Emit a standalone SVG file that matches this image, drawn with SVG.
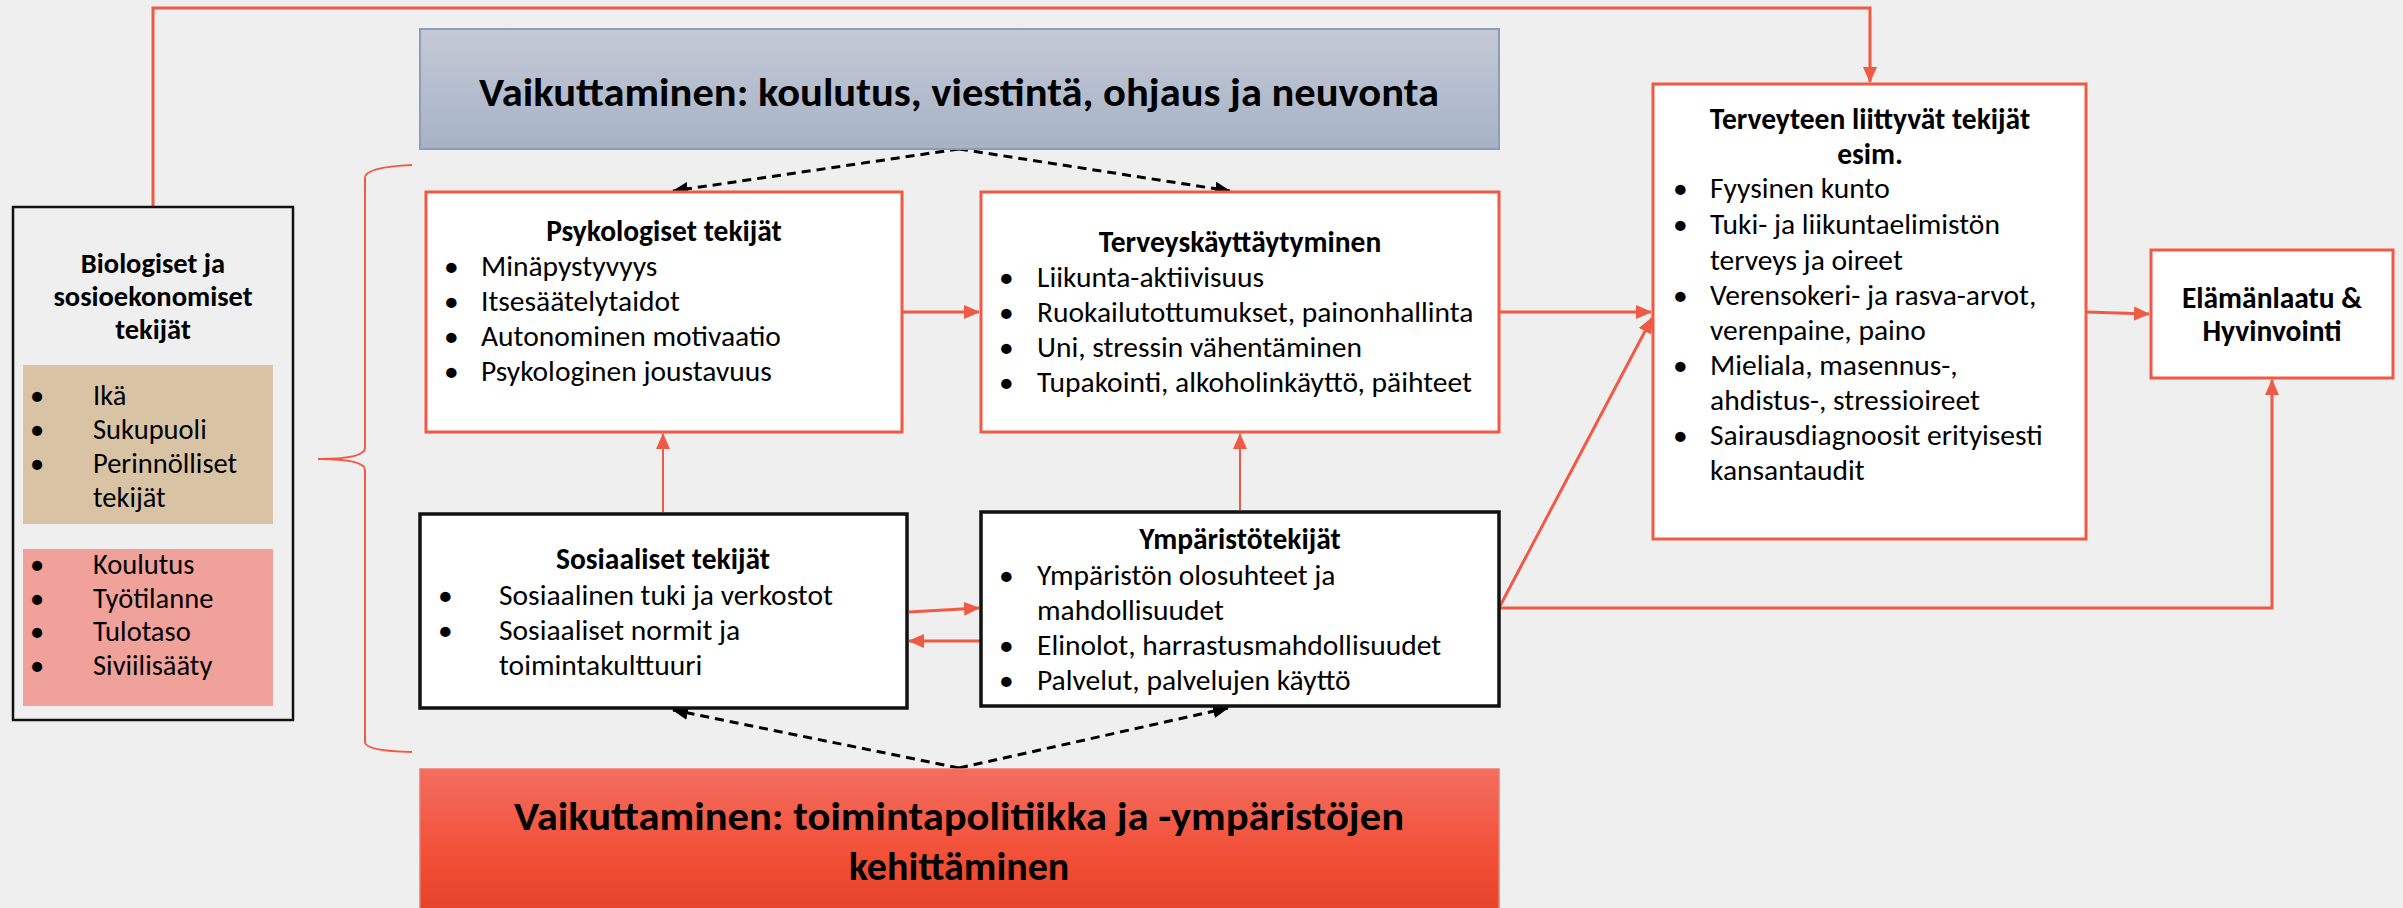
<svg xmlns="http://www.w3.org/2000/svg" width="2403" height="908" viewBox="0 0 2403 908">
<defs>
<style>
.t{font-family:Carlito,Lato,"Liberation Sans",sans-serif;font-size:29.5px;fill:#000}
.s{font-size:28.5px}
.b{font-weight:bold}
.m{text-anchor:middle}
.rbox{fill:#fff;stroke:#F05A44;stroke-width:3}
.kbox{fill:#fff;stroke:#111;stroke-width:3.5}
.rl{fill:none;stroke:#F05A44;stroke-width:3}
.rt{fill:none;stroke:#F05A44;stroke-width:2}
.dl{fill:none;stroke:#000;stroke-width:3;stroke-dasharray:9 6}
</style>
<linearGradient id="gTop" x1="0" y1="0" x2="0" y2="1"><stop offset="0" stop-color="#C4CAD7"/><stop offset="1" stop-color="#A6B2C5"/></linearGradient>
<linearGradient id="gBot" x1="0" y1="0" x2="0" y2="1"><stop offset="0" stop-color="#F36D5E"/><stop offset="0.6" stop-color="#F24E36"/><stop offset="1" stop-color="#E4412B"/></linearGradient>
<marker id="ar" markerUnits="userSpaceOnUse" markerWidth="16" markerHeight="16" viewBox="0 0 16 16" refX="15" refY="8" orient="auto"><path d="M0,1 L16,8 L0,15 Z" fill="#F05A44"/></marker>
<marker id="ak" markerUnits="userSpaceOnUse" markerWidth="16" markerHeight="16" viewBox="0 0 16 16" refX="15" refY="8" orient="auto"><path d="M0,1 L16,8 L0,15 Z" fill="#000"/></marker>
</defs>
<rect width="2403" height="908" fill="#EFEFEF"/>

<g id="connectors">
<path class="rl" d="M153,206 V8 H1870 V82" marker-end="url(#ar)"/>
<path class="rl" d="M902,312 H979" marker-end="url(#ar)"/>
<path class="rl" d="M1499,312 H1651" marker-end="url(#ar)"/>
<path class="rl" d="M2086,312 L2149,314" marker-end="url(#ar)"/>
<path class="rl" d="M1499,608 L1652,318" marker-end="url(#ar)"/>
<path class="rl" d="M1499,608 H2272 V380" marker-end="url(#ar)"/>
<path class="rt" d="M663,512 V434" marker-end="url(#ar)"/>
<path class="rt" d="M1240,510 V434" marker-end="url(#ar)"/>
<path class="rl" d="M909,612 L979,608" marker-end="url(#ar)"/>
<path class="rl" d="M981,641 H909" marker-end="url(#ar)"/>
<path class="dl" d="M959,149 L673,191" marker-end="url(#ak)"/>
<path class="dl" d="M959,149 L1230,191" marker-end="url(#ak)"/>
<path class="dl" d="M959,768 L673,710" marker-end="url(#ak)"/>
<path class="dl" d="M959,768 L1228,708" marker-end="url(#ak)"/>
<path class="rt" d="M412,165 Q365,167 365,178 V448 Q365,459 318,459 Q365,459 365,470 V742 Q365,751 412,752"/>
</g>

<g id="n_top">
<rect x="420" y="29" width="1079" height="120" fill="url(#gTop)" stroke="#8E9DB5" stroke-width="2"/>
<text class="t b m" x="959" y="106" style="font-size:40px" textLength="960" lengthAdjust="spacingAndGlyphs">Vaikuttaminen: koulutus, viestintä, ohjaus ja neuvonta</text>
</g>

<g id="n_bio">
<rect x="13" y="207" width="280" height="513" fill="#EFEFEF" stroke="#111" stroke-width="2.5"/>
<text class="t s b m" x="153" y="273">Biologiset ja</text>
<text class="t s b m" x="153" y="306">sosioekonomiset</text>
<text class="t s b m" x="153" y="339">tekijät</text>
<rect x="23" y="365" width="250" height="159" fill="#D9C3A5"/>
<g class="t s">
<text x="30" y="405">•</text><text x="93" y="405">Ikä</text>
<text x="30" y="439">•</text><text x="93" y="439">Sukupuoli</text>
<text x="30" y="473">•</text><text x="93" y="473">Perinnölliset</text>
<text x="93" y="507">tekijät</text>
</g>
<rect x="23" y="549" width="250" height="157" fill="#F0A199"/>
<g class="t s">
<text x="30" y="574">•</text><text x="93" y="574">Koulutus</text>
<text x="30" y="608">•</text><text x="93" y="608">Työtilanne</text>
<text x="30" y="641">•</text><text x="93" y="641">Tulotaso</text>
<text x="30" y="675">•</text><text x="93" y="675">Siviilisääty</text>
</g>
</g>

<g id="n_psyk">
<rect class="rbox" x="426" y="192" width="476" height="240"/>
<text class="t b m" x="664" y="241">Psykologiset tekijät</text>
<g class="t">
<text x="444" y="276">•</text><text x="481" y="276">Minäpystyvyys</text>
<text x="444" y="311">•</text><text x="481" y="311">Itsesäätelytaidot</text>
<text x="444" y="346">•</text><text x="481" y="346">Autonominen motivaatio</text>
<text x="444" y="381">•</text><text x="481" y="381">Psykologinen joustavuus</text>
</g>
</g>

<g id="n_kayt">
<rect class="rbox" x="981" y="192" width="518" height="240"/>
<text class="t b m" x="1240" y="252">Terveyskäyttäytyminen</text>
<g class="t">
<text x="999" y="287">•</text><text x="1037" y="287">Liikunta-aktiivisuus</text>
<text x="999" y="322">•</text><text x="1037" y="322">Ruokailutottumukset, painonhallinta</text>
<text x="999" y="357">•</text><text x="1037" y="357">Uni, stressin vähentäminen</text>
<text x="999" y="392">•</text><text x="1037" y="392">Tupakointi, alkoholinkäyttö, päihteet</text>
</g>
</g>

<g id="n_sos">
<rect class="kbox" x="420" y="514" width="487" height="194"/>
<text class="t b m" x="663" y="569">Sosiaaliset tekijät</text>
<g class="t">
<text x="438" y="605">•</text><text x="499" y="605">Sosiaalinen tuki ja verkostot</text>
<text x="438" y="640">•</text><text x="499" y="640">Sosiaaliset normit ja</text>
<text x="499" y="675">toimintakulttuuri</text>
</g>
</g>

<g id="n_ymp">
<rect class="kbox" x="981" y="512" width="518" height="194"/>
<text class="t b m" x="1240" y="549">Ympäristötekijät</text>
<g class="t">
<text x="999" y="585">•</text><text x="1037" y="585">Ympäristön olosuhteet ja</text>
<text x="1037" y="620">mahdollisuudet</text>
<text x="999" y="655">•</text><text x="1037" y="655">Elinolot, harrastusmahdollisuudet</text>
<text x="999" y="690">•</text><text x="1037" y="690">Palvelut, palvelujen käyttö</text>
</g>
</g>

<g id="n_terv">
<rect class="rbox" x="1653" y="84" width="433" height="455"/>
<text class="t b m" x="1870" y="129">Terveyteen liittyvät tekijät</text>
<text class="t b m" x="1870" y="164">esim.</text>
<g class="t">
<text x="1673" y="198">•</text><text x="1710" y="198">Fyysinen kunto</text>
<text x="1673" y="234">•</text><text x="1710" y="234">Tuki- ja liikuntaelimistön</text>
<text x="1710" y="270">terveys ja oireet</text>
<text x="1673" y="305">•</text><text x="1710" y="305">Verensokeri- ja rasva-arvot,</text>
<text x="1710" y="340">verenpaine, paino</text>
<text x="1673" y="375">•</text><text x="1710" y="375">Mieliala, masennus-,</text>
<text x="1710" y="410">ahdistus-, stressioireet</text>
<text x="1673" y="445">•</text><text x="1710" y="445">Sairausdiagnoosit erityisesti</text>
<text x="1710" y="480">kansantaudit</text>
</g>
</g>

<g id="n_elam">
<rect class="rbox" x="2151" y="250" width="242" height="128"/>
<text class="t b m" x="2272" y="308">Elämänlaatu &amp;</text>
<text class="t b m" x="2272" y="341">Hyvinvointi</text>
</g>

<g id="n_bot">
<rect x="420" y="769" width="1079" height="150" fill="url(#gBot)" stroke="#F07A6A" stroke-width="1.5"/>
<text class="t b m" x="959" y="830" style="font-size:40px" textLength="890" lengthAdjust="spacingAndGlyphs">Vaikuttaminen: toimintapolitiikka ja -ympäristöjen</text>
<text class="t b m" x="959" y="880" style="font-size:40px">kehittäminen</text>
</g>
</svg>
